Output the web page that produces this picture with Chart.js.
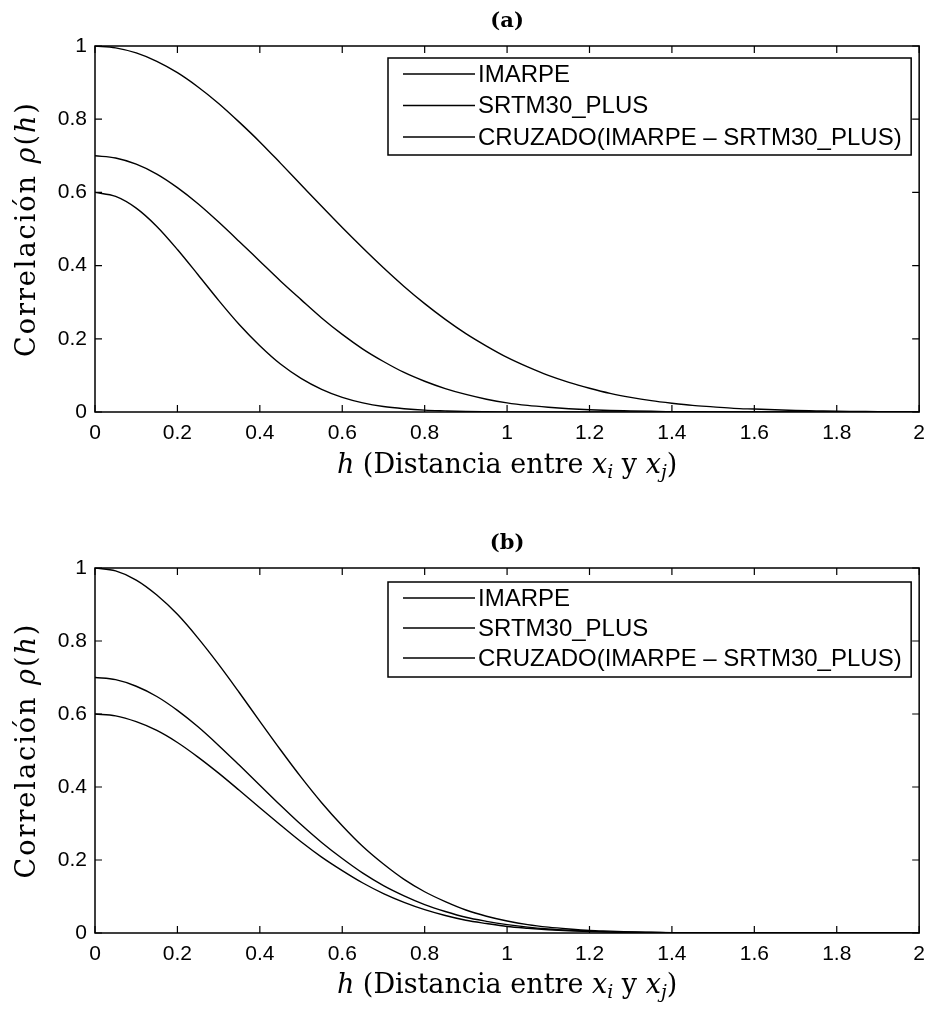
<!DOCTYPE html>
<html>
<head>
<meta charset="utf-8">
<script src="https://cdn.jsdelivr.net/npm/chart.js@4.4.0/dist/chart.umd.min.js"></script>
<style>
  html, body { margin: 0; padding: 0; background: #fff; }
  .wrap { position: absolute; left: 0; width: 934px; height: 505px; }
</style>
</head>
<body>
<div class="wrap" style="top:0"><canvas id="chartA"></canvas></div>
<div class="wrap" style="top:505px"><canvas id="chartB"></canvas></div>
<script>
// distancia h (paso 0.05)
const hValues = [0, 0.05, 0.1, 0.15, 0.2, 0.25, 0.3, 0.35, 0.4, 0.45, 0.5, 0.55, 0.6, 0.65, 0.7, 0.75,
                 0.8, 0.85, 0.9, 0.95, 1.0, 1.05, 1.1, 1.15, 1.2, 1.25, 1.3, 1.35, 1.4, 1.45, 1.5,
                 1.55, 1.6, 1.65, 1.7, 1.75, 1.8, 1.85, 1.9, 1.95, 2.0];

const seriesNames = ['IMARPE', 'SRTM30_PLUS', 'CRUZADO(IMARPE \u2013 SRTM30_PLUS)'];

// (a)
const imarpeA  = [1.000, 0.995, 0.981, 0.958, 0.927, 0.888, 0.843, 0.792, 0.738, 0.680, 0.621,
                  0.562, 0.504, 0.448, 0.394, 0.343, 0.296, 0.253, 0.214, 0.180, 0.149,
                  0.123, 0.100, 0.081, 0.065, 0.051, 0.040, 0.031, 0.024, 0.018, 0.014,
                  0.010, 0.008, 0.006, 0.004, 0.003, 0.002, 0.0015, 0.001, 0.0007, 0.0005];
const srtmA    = [0.700, 0.694, 0.677, 0.650, 0.613, 0.569, 0.519, 0.466, 0.412, 0.358, 0.307,
                  0.257, 0.212, 0.172, 0.138, 0.108, 0.084, 0.064, 0.048, 0.035, 0.025,
                  0.018, 0.013, 0.009, 0.006, 0.004, 0.003, 0.002, 0.001, 0.001, 0.000,
                  0.000, 0.000, 0.000, 0.000, 0.000, 0.000, 0.000, 0.000, 0.000, 0.000];
const cruzadoA = [0.600, 0.589, 0.557, 0.507, 0.444, 0.375, 0.305, 0.239, 0.181, 0.131, 0.092,
                  0.062, 0.040, 0.025, 0.015, 0.009, 0.005, 0.003, 0.0014, 0.0007, 0.0003,
                  0.000, 0.000, 0.000, 0.000, 0.000, 0.000, 0.000, 0.000, 0.000, 0.000,
                  0.000, 0.000, 0.000, 0.000, 0.000, 0.000, 0.000, 0.000, 0.000, 0.000];

// (b)
const imarpeB  = [1.000, 0.992, 0.967, 0.926, 0.873, 0.808, 0.736, 0.659, 0.580, 0.502, 0.427,
                  0.357, 0.294, 0.237, 0.189, 0.147, 0.113, 0.086, 0.063, 0.046, 0.033,
                  0.023, 0.016, 0.011, 0.007, 0.005, 0.003, 0.002, 0.001, 0.001, 0.000,
                  0.000, 0.000, 0.000, 0.000, 0.000, 0.000, 0.000, 0.000, 0.000, 0.000];
const srtmB    = [0.700, 0.694, 0.676, 0.648, 0.610, 0.565, 0.514, 0.460, 0.405, 0.350, 0.297,
                  0.248, 0.204, 0.164, 0.130, 0.102, 0.078, 0.059, 0.043, 0.032, 0.023,
                  0.016, 0.011, 0.0075, 0.005, 0.003, 0.002, 0.0013, 0.001, 0.000, 0.000,
                  0.000, 0.000, 0.000, 0.000, 0.000, 0.000, 0.000, 0.000, 0.000, 0.000];
const cruzadoB = [0.600, 0.595, 0.579, 0.555, 0.522, 0.482, 0.438, 0.391, 0.343, 0.296, 0.250,
                  0.208, 0.171, 0.137, 0.108, 0.084, 0.064, 0.048, 0.035, 0.026, 0.018,
                  0.013, 0.009, 0.006, 0.004, 0.0025, 0.002, 0.001, 0.001, 0.000, 0.000,
                  0.000, 0.000, 0.000, 0.000, 0.000, 0.000, 0.000, 0.000, 0.000, 0.000];

const serif = "'DejaVu Serif', 'Liberation Serif', serif";
const sans = "'Liberation Sans', Arial, sans-serif";

// dibuja texto por partes (normal / italica / subindice)
function drawRuns(ctx, runs, size) {
    let total = 0;
    const parts = runs.map(r => {
        const s = r.sub ? size * 0.7 : size;
        const f = (r.it ? 'italic ' : '') + s + 'px ' + serif;
        ctx.font = f;
        const w = ctx.measureText(r.t).width;
        total += w;
        return { t: r.t, f: f, w: w, dy: r.sub ? size * 0.25 : 0 };
    });
    let x = -total / 2;
    parts.forEach(p => {
        ctx.font = p.f;
        ctx.fillText(p.t, x, p.dy);
        x += p.w;
    });
}

const matlabBox = {
    id: 'matlabBox',
    afterDraw(chart, args, opts) {
        const ctx = chart.ctx;
        const a = chart.chartArea;
        const xs = chart.scales.x, ys = chart.scales.y;
        ctx.save();
        ctx.strokeStyle = '#000';
        ctx.lineWidth = 1.5;
        ctx.strokeRect(a.left, a.top, a.right - a.left, a.bottom - a.top);
        ctx.lineWidth = 1.2;
        ctx.beginPath();
        xs.ticks.forEach(t => {
            const px = xs.getPixelForValue(t.value);
            ctx.moveTo(px, a.bottom); ctx.lineTo(px, a.bottom - 7);
            ctx.moveTo(px, a.top); ctx.lineTo(px, a.top + 7);
        });
        ys.ticks.forEach(t => {
            const py = ys.getPixelForValue(t.value);
            ctx.moveTo(a.left, py); ctx.lineTo(a.left + 7, py);
            ctx.moveTo(a.right, py); ctx.lineTo(a.right - 7, py);
        });
        ctx.stroke();

        // titulo (a) / (b)
        ctx.fillStyle = '#000';
        ctx.textAlign = 'center';
        ctx.textBaseline = 'middle';
        ctx.font = 'bold 21px ' + serif;
        ctx.fillText(opts.title, (a.left + a.right) / 2, a.top - 24);

        // leyenda
        const lx = a.left + 293, rx = a.right - 8, ty = a.top + opts.legendTop;
        const bh = opts.legendH;
        ctx.fillStyle = '#fff';
        ctx.fillRect(lx, ty, rx - lx, bh);
        ctx.lineWidth = 1.5;
        ctx.strokeRect(lx, ty, rx - lx, bh);
        ctx.lineWidth = 1.3;
        ctx.fillStyle = '#000';
        ctx.font = '24px ' + sans;
        ctx.textAlign = 'left';
        chart.data.datasets.forEach((ds, i) => {
            const y = ty + opts.firstRow + i * opts.rowH;
            ctx.beginPath();
            ctx.moveTo(lx + 15, y); ctx.lineTo(lx + 87, y);
            ctx.stroke();
            ctx.fillText(ds.label, lx + 90, y + 1);
        });

        // titulos de ejes
        ctx.save();
        ctx.translate((a.left + a.right) / 2, a.bottom + opts.xTitleOffset);
        drawRuns(ctx, [
            { t: 'h', it: true }, { t: ' (Distancia entre ' }, { t: 'x', it: true }, { t: 'i', it: true, sub: true },
            { t: ' y ' }, { t: 'x', it: true }, { t: 'j', it: true, sub: true }, { t: ')' }
        ], 27);
        ctx.restore();
        ctx.save();
        ctx.translate(28, (a.top + a.bottom) / 2);
        ctx.rotate(-Math.PI / 2);
        ctx.letterSpacing = '2px';
        drawRuns(ctx, [
            { t: 'Correlación ' }, { t: 'ρ', it: true }, { t: '(' }, { t: 'h', it: true }, { t: ')' }
        ], 27);
        ctx.restore();
        ctx.restore();
    }
};

function makeChart(id, title, series, geo) {
    const datasets = series.map((vals, i) => ({
        label: seriesNames[i],
        data: hValues.map((h, k) => ({ x: h, y: vals[k] })),
        borderColor: '#000',
        borderWidth: 1.4,
        pointRadius: 0,
        fill: false,
        cubicInterpolationMode: 'monotone'
    }));
    const fmt = v => String(Number(v.toFixed(1)));
    return new Chart(document.getElementById(id), {
        type: 'line',
        data: { datasets: datasets },
        options: {
            responsive: true,
            maintainAspectRatio: false,
            animation: false,
            layout: { padding: { left: 0, right: 8, top: geo.top, bottom: 0 } },
            plugins: {
                legend: { display: false },
                tooltip: { enabled: false },
                title: { display: false },
                matlabBox: Object.assign({ title: title }, geo.box)
            },
            scales: {
                x: {
                    type: 'linear',
                    min: 0, max: 2,
                    afterFit: s => { s.height = geo.xHeight; },
                    ticks: { stepSize: 0.2, color: '#000', padding: 9, maxRotation: 0,
                             callback: fmt, font: { family: sans, size: 21 } },
                    grid: { display: false, drawTicks: false },
                    border: { display: false }
                },
                y: {
                    min: 0, max: 1,
                    afterFit: s => { s.width = 95; },
                    ticks: { stepSize: 0.2, color: '#000', padding: 8,
                             callback: fmt, font: { family: sans, size: 21 } },
                    grid: { display: false, drawTicks: false },
                    border: { display: false }
                }
            }
        },
        plugins: [matlabBox]
    });
}

makeChart('chartA', '(a)', [imarpeA, srtmA, cruzadoA], {
    top: 46, xHeight: 93,
    box: { legendTop: 12, legendH: 97, firstRow: 16, rowH: 31.5, xTitleOffset: 54 }
});
makeChart('chartB', '(b)', [imarpeB, srtmB, cruzadoB], {
    top: 63, xHeight: 77,
    box: { legendTop: 14, legendH: 95, firstRow: 16, rowH: 30, xTitleOffset: 53 }
});
</script>
</body>
</html>
